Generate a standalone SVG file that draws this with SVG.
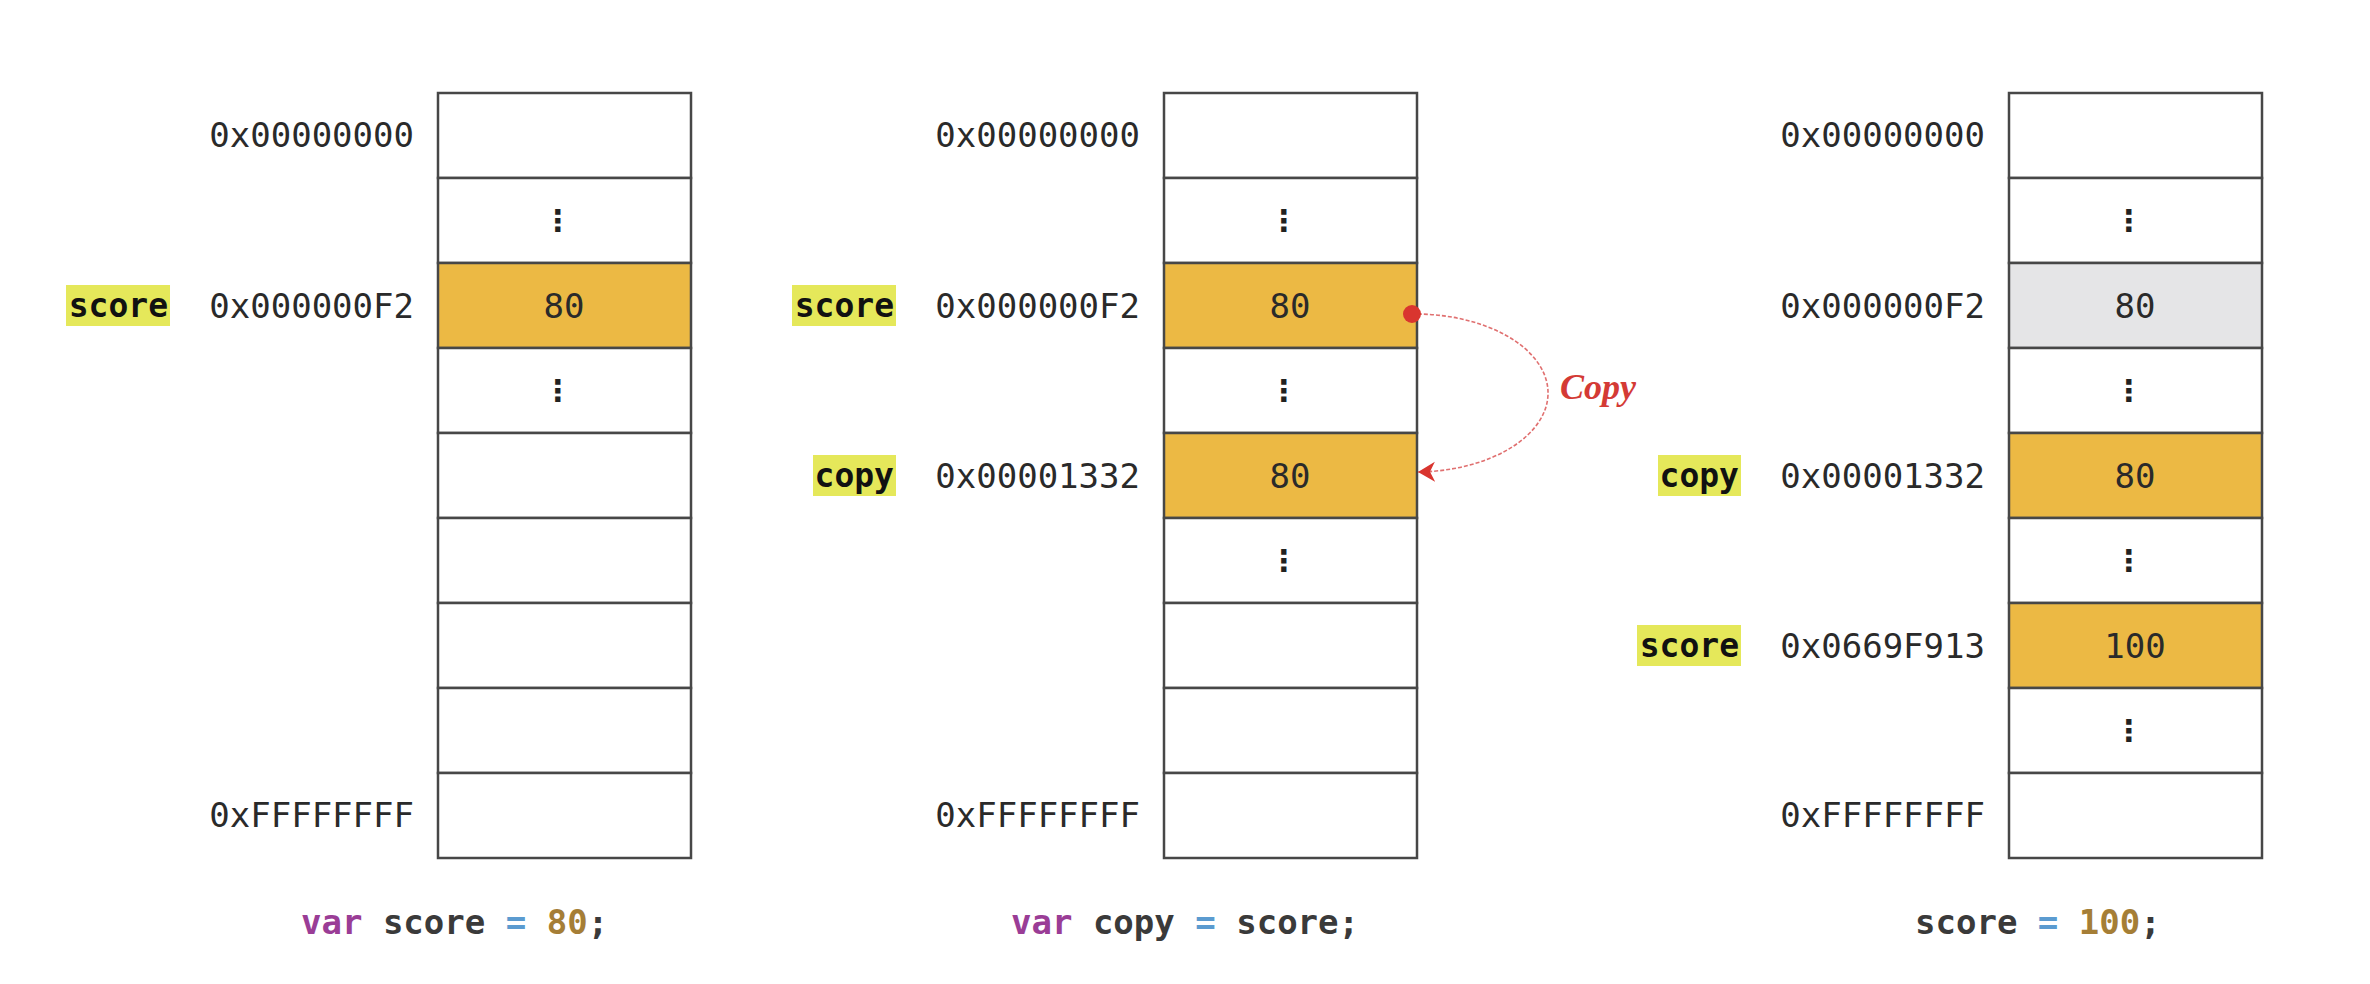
<svg xmlns="http://www.w3.org/2000/svg" width="2370" height="984" viewBox="0 0 2370 984">
<style>
.cell{stroke:#474747;stroke-width:2.5}
.w{fill:#ffffff}
.o{fill:#ecb944}
.g{fill:#e5e5e7}
.addr{font-family:"DejaVu Sans Mono",monospace;font-size:34px;fill:#2a2a2a;text-anchor:end}
.val{font-family:"DejaVu Sans Mono",monospace;font-size:34px;fill:#2a2a2a;text-anchor:middle}
.dots{font-family:"DejaVu Sans","DejaVu Sans Mono",sans-serif;font-weight:bold;font-size:30px;fill:#222;text-anchor:middle;dominant-baseline:central}
.lbl{font-family:"DejaVu Sans Mono",monospace;font-weight:bold;font-size:33px;fill:#111;text-anchor:end}
.hl{fill:#e5e85a}
.code{font-family:"DejaVu Sans Mono",monospace;font-weight:bold;font-size:34px;fill:#3a3a3a}
.kw{fill:#9a3d96}
.op{fill:#5b9bd0}
.num{fill:#a57e36}
.copy{font-family:"Liberation Serif",serif;font-weight:bold;font-style:italic;font-size:36px;fill:#d43a35}
</style>
<defs>
<marker id="ah" markerUnits="userSpaceOnUse" markerWidth="18" markerHeight="22" viewBox="0 0 18 22" refX="17" refY="11" orient="auto">
<path d="M0,1 L17,11 L0,21 L5,11 z" fill="#d9352f"/>
</marker>
</defs>

<!-- Column 1 -->
<g id="col1">
<rect class="cell w" x="438" y="93" width="253" height="85"/>
<rect class="cell w" x="438" y="178" width="253" height="85"/>
<rect class="cell o" x="438" y="263" width="253" height="85"/>
<rect class="cell w" x="438" y="348" width="253" height="85"/>
<rect class="cell w" x="438" y="433" width="253" height="85"/>
<rect class="cell w" x="438" y="518" width="253" height="85"/>
<rect class="cell w" x="438" y="603" width="253" height="85"/>
<rect class="cell w" x="438" y="688" width="253" height="85"/>
<rect class="cell w" x="438" y="773" width="253" height="85"/>
<text class="addr" x="414" y="147">0x00000000</text>
<text class="dots" x="558" y="220">⋮</text>
<text class="addr" x="414" y="318">0x000000F2</text>
<text class="val" x="564" y="318">80</text>
<text class="dots" x="558" y="390">⋮</text>
<text class="addr" x="414" y="827">0xFFFFFFFF</text>
<rect class="hl" x="66" y="285" width="104" height="41"/>
<text class="lbl" x="168" y="317">score</text>
<text class="code" x="301" y="934"><tspan class="kw">var</tspan> score <tspan class="op">=</tspan> <tspan class="num">80</tspan>;</text>
</g>

<!-- Column 2 -->
<g id="col2">
<rect class="cell w" x="1164" y="93" width="253" height="85"/>
<rect class="cell w" x="1164" y="178" width="253" height="85"/>
<rect class="cell o" x="1164" y="263" width="253" height="85"/>
<rect class="cell w" x="1164" y="348" width="253" height="85"/>
<rect class="cell o" x="1164" y="433" width="253" height="85"/>
<rect class="cell w" x="1164" y="518" width="253" height="85"/>
<rect class="cell w" x="1164" y="603" width="253" height="85"/>
<rect class="cell w" x="1164" y="688" width="253" height="85"/>
<rect class="cell w" x="1164" y="773" width="253" height="85"/>
<text class="addr" x="1140" y="147">0x00000000</text>
<text class="dots" x="1284" y="220">⋮</text>
<text class="addr" x="1140" y="318">0x000000F2</text>
<text class="val" x="1290" y="318">80</text>
<text class="dots" x="1284" y="390">⋮</text>
<text class="addr" x="1140" y="488">0x00001332</text>
<text class="val" x="1290" y="488">80</text>
<text class="dots" x="1284" y="560">⋮</text>
<text class="addr" x="1140" y="827">0xFFFFFFFF</text>
<rect class="hl" x="792" y="285" width="104" height="41"/>
<text class="lbl" x="894" y="317">score</text>
<rect class="hl" x="813" y="455" width="83" height="41"/>
<text class="lbl" x="894" y="487">copy</text>
<text class="code" x="1011" y="934"><tspan class="kw">var</tspan> copy <tspan class="op">=</tspan> score;</text>
</g>

<!-- Column 3 -->
<g id="col3">
<rect class="cell w" x="2009" y="93" width="253" height="85"/>
<rect class="cell w" x="2009" y="178" width="253" height="85"/>
<rect class="cell g" x="2009" y="263" width="253" height="85"/>
<rect class="cell w" x="2009" y="348" width="253" height="85"/>
<rect class="cell o" x="2009" y="433" width="253" height="85"/>
<rect class="cell w" x="2009" y="518" width="253" height="85"/>
<rect class="cell o" x="2009" y="603" width="253" height="85"/>
<rect class="cell w" x="2009" y="688" width="253" height="85"/>
<rect class="cell w" x="2009" y="773" width="253" height="85"/>
<text class="addr" x="1985" y="147">0x00000000</text>
<text class="dots" x="2129" y="220">⋮</text>
<text class="addr" x="1985" y="318">0x000000F2</text>
<text class="val" x="2135" y="318">80</text>
<text class="dots" x="2129" y="390">⋮</text>
<text class="addr" x="1985" y="488">0x00001332</text>
<text class="val" x="2135" y="488">80</text>
<text class="dots" x="2129" y="560">⋮</text>
<text class="addr" x="1985" y="658">0x0669F913</text>
<text class="val" x="2135" y="658">100</text>
<text class="dots" x="2129" y="730">⋮</text>
<text class="addr" x="1985" y="827">0xFFFFFFFF</text>
<rect class="hl" x="1658" y="455" width="83" height="41"/>
<text class="lbl" x="1739" y="487">copy</text>
<rect class="hl" x="1637" y="625" width="104" height="41"/>
<text class="lbl" x="1739" y="657">score</text>
<text class="code" x="1915" y="934">score <tspan class="op">=</tspan> <tspan class="num">100</tspan>;</text>
</g>

<!-- Connectors -->
<g id="connectors">
<path d="M1412,314 A133,79 0 0 1 1418,472" fill="none" stroke="#e07070" stroke-width="1.6" stroke-dasharray="4 2" marker-end="url(#ah)"/>
<circle cx="1412" cy="314" r="9" fill="#d9352f"/>
<text class="copy" x="1560" y="399">Copy</text>
</g>
</svg>
